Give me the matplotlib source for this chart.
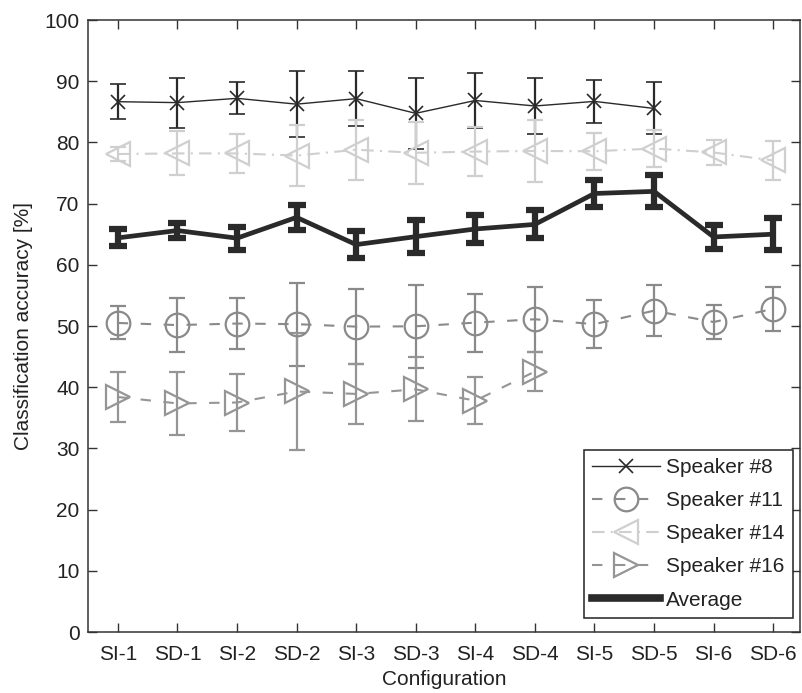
import matplotlib
matplotlib.use("Agg")
import matplotlib.pyplot as plt
from matplotlib.lines import Line2D
import numpy as np

plt.rcParams['font.family'] = ['Liberation Sans', 'DejaVu Sans']

configs = ["SI-1", "SD-1", "SI-2", "SD-2", "SI-3", "SD-3",
           "SI-4", "SD-4", "SI-5", "SD-5", "SI-6", "SD-6"]

spk8_mean = [86.65, 86.5, 87.2, 86.25, 87.15, 84.75, 86.85, 85.95, 86.7, 85.55]
spk8_err = [2.85, 4.1, 2.6, 5.35, 4.45, 5.85, 4.45, 4.6, 3.5, 4.25]

spk11_mean = [50.5, 50.15, 50.4, 50.3, 49.9, 49.95, 50.55, 51.1, 50.3, 52.5, 50.65, 52.8]
spk11_err = [2.7, 4.35, 4.1, 6.8, 6.1, 6.75, 4.75, 5.3, 3.95, 4.2, 2.85, 3.6]

spk14_mean = [78.1, 78.2, 78.2, 77.85, 78.8, 78.3, 78.5, 78.6, 78.55, 79.0, 78.35, 77.05]
spk14_err = [1.2, 3.6, 3.2, 4.95, 4.9, 5.1, 4.0, 5.1, 3.05, 3.0, 2.05, 3.15]

spk16_mean = [38.4, 37.35, 37.5, 39.3, 38.9, 39.65, 37.8, 42.55]
spk16_err = [4.1, 5.15, 4.7, 9.6, 4.9, 5.25, 3.8, 3.25]

avg_mean = [64.4, 65.6, 64.35, 67.75, 63.3, 64.6, 65.85, 66.6, 71.65, 72.0, 64.55, 65.0]
avg_err = [1.4, 1.3, 1.85, 2.05, 2.2, 2.7, 2.25, 2.3, 2.25, 2.6, 1.95, 2.6]

labels = ['Speaker #8', 'Speaker #11', 'Speaker #14', 'Speaker #16', 'Average']

fig = plt.figure(figsize=(8.02, 6.93), dpi=100)
ax = fig.add_axes([88/802, 61/693, 712/802, 612/693])

x_all = np.arange(1, len(configs) + 1)

c8 = '#2a2a2a'
c11 = '#8a8a8a'
c14 = '#cfcfcf'
c16 = '#959595'

styles = [
    dict(color=c8, lw=1.0, ls='-', marker='x', ms=10.5, mew=1.2),
    dict(color=c11, lw=1.5, ls=(0, (5, 6)), marker='o', ms=17, mew=1.6),
    dict(color=c14, lw=1.5, ls=(0, (6, 3, 1, 3)), marker='<', ms=17, mew=1.6),
    dict(color=c16, lw=1.5, ls=(0, (5, 6)), marker='>', ms=17, mew=1.6),
]
series = [(spk8_mean, spk8_err), (spk11_mean, spk11_err),
          (spk14_mean, spk14_err), (spk16_mean, spk16_err)]

handles = []
for (m, e), st, lab in zip(series, styles, labels[:4]):
    ax.errorbar(x_all[:len(m)], m, yerr=e, color=st['color'], lw=st['lw'], ls=st['ls'],
                marker=st['marker'], ms=st['ms'], mew=st['mew'], mfc='none',
                mec=st['color'], ecolor=st['color'], elinewidth=1.6,
                capsize=6, capthick=1.6)
    handles.append(Line2D([], [], color=st['color'], lw=st['lw'], ls=st['ls'],
                          marker=st['marker'], ms=st['ms'], mew=st['mew'],
                          mfc='none', mec=st['color']))

ax.errorbar(x_all[:len(avg_mean)], avg_mean, yerr=avg_err, color=c8, lw=3.4,
            ecolor=c8, elinewidth=4.5, capsize=6.5, capthick=4.5)
handles.append(Line2D([], [], color=c8, lw=5.5))

ax.set_xlim(0.5, 12.45)
ax.set_ylim(0, 100)
ax.set_xticks(x_all)
ax.set_xticklabels(configs)
ax.set_yticks(np.arange(0, 101, 10))
ax.tick_params(direction='in', top=True, right=True, length=6.5, width=1.0,
               labelsize=15, color='#333333', labelcolor='#222222')
ax.tick_params(axis='x', pad=9)
ax.tick_params(axis='y', pad=6)
for s in ax.spines.values():
    s.set_color('#333333')
    s.set_linewidth(1.1)

ax.set_xlabel('Configuration', fontsize=15, labelpad=5, color='#222222')
ax.set_ylabel('Classification accuracy [%]', fontsize=15, labelpad=8, color='#222222')

leg = ax.legend(handles, labels, loc='lower right', bbox_to_anchor=(0.990, 0.023),
                borderaxespad=0, fontsize=15, frameon=True, fancybox=False,
                edgecolor='#222222', framealpha=1, handlelength=3.25,
                labelspacing=0.68, borderpad=0.4, handletextpad=0.3)
leg.get_frame().set_linewidth(1.1)
for t in leg.get_texts():
    t.set_color('#222222')

fig.savefig('out.png', dpi=100)
